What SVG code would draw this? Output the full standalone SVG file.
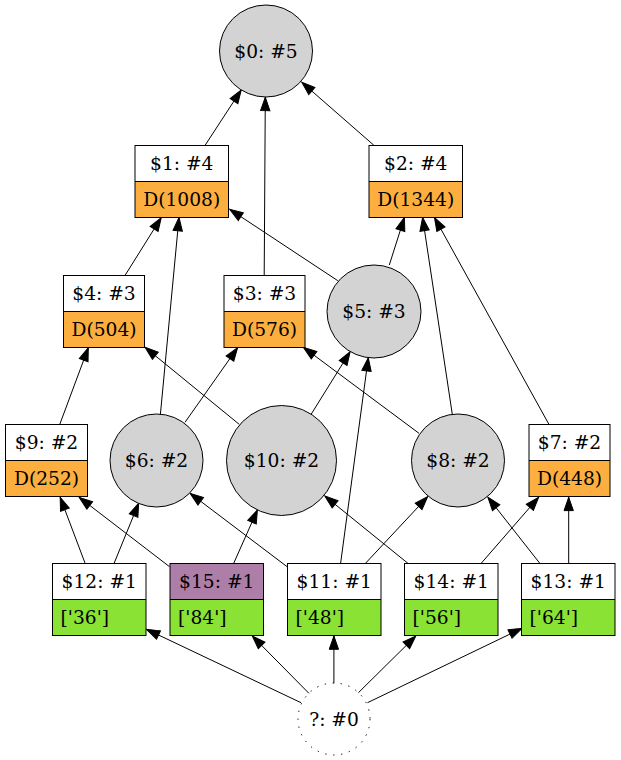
<svg xmlns="http://www.w3.org/2000/svg" width="621" height="760" viewBox="0 0 621 760">
<style>
text{font-family:"DejaVu Serif","Liberation Serif",serif;font-size:18.67px;fill:#000}
.c{text-anchor:middle}
.l{text-anchor:start}
.n{stroke:#000;stroke-width:1}
.g{fill:#d3d3d3}
.w{fill:#fff}
.o{fill:#fcaf3e}
.gr{fill:#8ae234}
.p{fill:#ad7fa8}
.e{fill:none;stroke:#000;stroke-width:1;marker-end:url(#ah)}
</style>
<defs>
<marker id="ah" markerUnits="userSpaceOnUse" markerWidth="16" markerHeight="12" refX="13.3" refY="4.67" orient="auto" overflow="visible">
<path d="M0,0 L13.3,4.67 L0,9.33 z" fill="#000" stroke="#000" stroke-width="1"/>
</marker>
</defs>
<rect width="621" height="760" fill="#fff"/>
<g id="edges">
<line class="e" x1="205.1" y1="145.3" x2="241.2" y2="90"/>
<line class="e" x1="264.2" y1="275.3" x2="265.3" y2="97.3"/>
<line class="e" x1="373.9" y1="145.3" x2="301.8" y2="82.3"/>
<line class="e" x1="125.1" y1="275.3" x2="161.2" y2="217.7"/>
<line class="e" x1="160.4" y1="414.3" x2="179" y2="217.5"/>
<line class="e" x1="337.8" y1="280.7" x2="229.7" y2="209.3"/>
<line class="e" x1="389.3" y1="265" x2="404.4" y2="217.5"/>
<line class="e" x1="452.3" y1="414.3" x2="422.6" y2="217.5"/>
<line class="e" x1="548.9" y1="424.3" x2="434.5" y2="217.5"/>
<line class="e" x1="59.8" y1="424.3" x2="88.3" y2="347.7"/>
<line class="e" x1="239.2" y1="424.3" x2="145" y2="347.3"/>
<line class="e" x1="185" y1="422.3" x2="237.6" y2="347.7"/>
<line class="e" x1="419" y1="433.3" x2="303.4" y2="347.3"/>
<line class="e" x1="311.3" y1="414" x2="350.1" y2="351.7"/>
<line class="e" x1="340.6" y1="563.3" x2="368.3" y2="357.7"/>
<line class="e" x1="85.1" y1="563.3" x2="60.2" y2="497.3"/>
<line class="e" x1="114.1" y1="563.3" x2="138.6" y2="503.3"/>
<line class="e" x1="169.5" y1="566.7" x2="79.2" y2="497.3"/>
<line class="e" x1="233.7" y1="563.3" x2="257.4" y2="510"/>
<line class="e" x1="287.1" y1="566.7" x2="190.1" y2="493.3"/>
<line class="e" x1="365.5" y1="563.3" x2="427.7" y2="496.7"/>
<line class="e" x1="407.9" y1="563.3" x2="324.8" y2="496"/>
<line class="e" x1="481.2" y1="563.3" x2="538.6" y2="497.3"/>
<line class="e" x1="539.8" y1="563.3" x2="487.9" y2="497.3"/>
<line class="e" x1="568.7" y1="563.3" x2="568.7" y2="497.3"/>
<line class="e" x1="301" y1="702.7" x2="146.5" y2="629.3"/>
<line class="e" x1="308.9" y1="693.3" x2="252.3" y2="636"/>
<line class="e" x1="333.9" y1="683.3" x2="333.9" y2="636"/>
<line class="e" x1="358.4" y1="692.7" x2="415.8" y2="636"/>
<line class="e" x1="367.5" y1="702.7" x2="522" y2="628.3"/>
</g>
<g id="n0">
<ellipse class="n g" cx="266" cy="51" rx="46.5" ry="46"/>
<text class="c" x="266" y="57.5">$0: #5</text>
</g>
<g id="n1">
<rect class="w" x="135" y="145.5" width="93.5" height="36"/>
<rect class="o" x="135" y="181.5" width="93.5" height="36"/>
<rect class="n" fill="none" x="135" y="145.5" width="93.5" height="72"/>
<line class="n" x1="135" y1="181.5" x2="228.5" y2="181.5"/>
<text class="c" x="181.75" y="169.5">$1: #4</text>
<text class="c" x="181.75" y="205.5">D(1008)</text>
</g>
<g id="n2">
<rect class="w" x="369" y="145.5" width="93.5" height="36"/>
<rect class="o" x="369" y="181.5" width="93.5" height="36"/>
<rect class="n" fill="none" x="369" y="145.5" width="93.5" height="72"/>
<line class="n" x1="369" y1="181.5" x2="462.5" y2="181.5"/>
<text class="c" x="415.75" y="169.5">$2: #4</text>
<text class="c" x="415.75" y="205.5">D(1344)</text>
</g>
<g id="n4">
<rect class="w" x="63.5" y="275.5" width="81" height="36"/>
<rect class="o" x="63.5" y="311.5" width="81" height="36"/>
<rect class="n" fill="none" x="63.5" y="275.5" width="81" height="72"/>
<line class="n" x1="63.5" y1="311.5" x2="144.5" y2="311.5"/>
<text class="c" x="104" y="299.5">$4: #3</text>
<text class="c" x="104" y="335.5">D(504)</text>
</g>
<g id="n3">
<rect class="w" x="224" y="275.5" width="81" height="36"/>
<rect class="o" x="224" y="311.5" width="81" height="36"/>
<rect class="n" fill="none" x="224" y="275.5" width="81" height="72"/>
<line class="n" x1="224" y1="311.5" x2="305" y2="311.5"/>
<text class="c" x="264.5" y="299.5">$3: #3</text>
<text class="c" x="264.5" y="335.5">D(576)</text>
</g>
<g id="n5">
<ellipse class="n g" cx="374" cy="311.5" rx="47" ry="46.5"/>
<text class="c" x="374" y="318">$5: #3</text>
</g>
<g id="n9">
<rect class="w" x="5.5" y="424.5" width="82" height="36"/>
<rect class="o" x="5.5" y="460.5" width="82" height="36"/>
<rect class="n" fill="none" x="5.5" y="424.5" width="82" height="72"/>
<line class="n" x1="5.5" y1="460.5" x2="87.5" y2="460.5"/>
<text class="c" x="46.5" y="448.5">$9: #2</text>
<text class="c" x="46.5" y="484.5">D(252)</text>
</g>
<g id="n6">
<ellipse class="n g" cx="156.5" cy="460.5" rx="46.5" ry="46.5"/>
<text class="c" x="156.5" y="467">$6: #2</text>
</g>
<g id="n10">
<ellipse class="n g" cx="281.5" cy="460.5" rx="55" ry="55"/>
<text class="c" x="281.5" y="467">$10: #2</text>
</g>
<g id="n8">
<ellipse class="n g" cx="458" cy="460.5" rx="46.5" ry="46.5"/>
<text class="c" x="458" y="467">$8: #2</text>
</g>
<g id="n7">
<rect class="w" x="529" y="424.5" width="81" height="36"/>
<rect class="o" x="529" y="460.5" width="81" height="36"/>
<rect class="n" fill="none" x="529" y="424.5" width="81" height="72"/>
<line class="n" x1="529" y1="460.5" x2="610" y2="460.5"/>
<text class="c" x="569.5" y="448.5">$7: #2</text>
<text class="c" x="569.5" y="484.5">D(448)</text>
</g>
<g id="n12">
<rect class="w" x="52.5" y="563.5" width="93.5" height="36"/>
<rect class="gr" x="52.5" y="599.5" width="93.5" height="36"/>
<rect class="n" fill="none" x="52.5" y="563.5" width="93.5" height="72"/>
<line class="n" x1="52.5" y1="599.5" x2="146" y2="599.5"/>
<text class="c" x="99.25" y="587.5">$12: #1</text>
<text class="l" x="60.5" y="623.5">['36']</text>
</g>
<g id="n15">
<rect class="p" x="170" y="563.5" width="93.5" height="36"/>
<rect class="gr" x="170" y="599.5" width="93.5" height="36"/>
<rect class="n" fill="none" x="170" y="563.5" width="93.5" height="72"/>
<line class="n" x1="170" y1="599.5" x2="263.5" y2="599.5"/>
<text class="c" x="216.75" y="587.5">$15: #1</text>
<text class="l" x="178" y="623.5">['84']</text>
</g>
<g id="n11">
<rect class="w" x="287.5" y="563.5" width="93.5" height="36"/>
<rect class="gr" x="287.5" y="599.5" width="93.5" height="36"/>
<rect class="n" fill="none" x="287.5" y="563.5" width="93.5" height="72"/>
<line class="n" x1="287.5" y1="599.5" x2="381" y2="599.5"/>
<text class="c" x="334.25" y="587.5">$11: #1</text>
<text class="l" x="295.5" y="623.5">['48']</text>
</g>
<g id="n14">
<rect class="w" x="404.5" y="563.5" width="93.5" height="36"/>
<rect class="gr" x="404.5" y="599.5" width="93.5" height="36"/>
<rect class="n" fill="none" x="404.5" y="563.5" width="93.5" height="72"/>
<line class="n" x1="404.5" y1="599.5" x2="498" y2="599.5"/>
<text class="c" x="451.25" y="587.5">$14: #1</text>
<text class="l" x="412.5" y="623.5">['56']</text>
</g>
<g id="n13">
<rect class="w" x="521.5" y="563.5" width="93.5" height="36"/>
<rect class="gr" x="521.5" y="599.5" width="93.5" height="36"/>
<rect class="n" fill="none" x="521.5" y="563.5" width="93.5" height="72"/>
<line class="n" x1="521.5" y1="599.5" x2="615" y2="599.5"/>
<text class="c" x="568.25" y="587.5">$13: #1</text>
<text class="l" x="529.5" y="623.5">['64']</text>
</g>
<g id="nq">
<circle cx="334" cy="719" r="36" fill="none" stroke="#000" stroke-width="1" stroke-dasharray="1.33,6.67"/>
<text class="c" x="334" y="725.5">?: #0</text>
</g>
</svg>
